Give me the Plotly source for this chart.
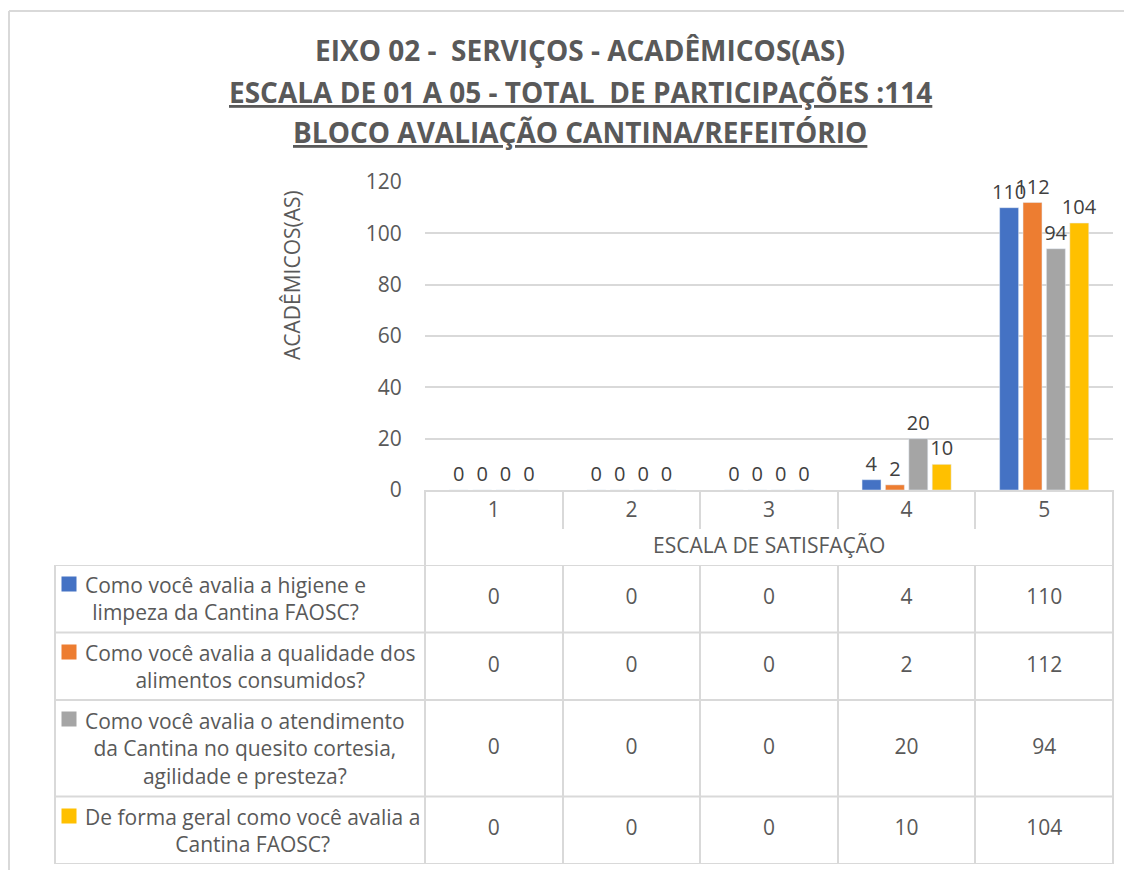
import plotly.graph_objects as go

W, H = 1132, 870

categories = ["1", "2", "3", "4", "5"]
questions = [
    "Como você avalia a higiene e<br>limpeza da Cantina FAOSC?",
    "Como você avalia a qualidade dos<br>alimentos consumidos?",
    "Como você avalia o atendimento<br>da Cantina no quesito cortesia,<br>agilidade e presteza?",
    "De forma geral como você avalia a<br>Cantina FAOSC?",
]
higiene = [0, 0, 0, 4, 110]
qualidade = [0, 0, 0, 2, 112]
atendimento = [0, 0, 0, 20, 94]
geral = [0, 0, 0, 10, 104]
series = [higiene, qualidade, atendimento, geral]
colors = ["#4472C4", "#ED7D31", "#A5A5A5", "#FFC000"]

title_lines = [
    "<b>EIXO 02 -  SERVIÇOS - ACADÊMICOS(AS)</b>",
    "<b><u>ESCALA DE 01 A 05 - TOTAL  DE PARTICIPAÇÕES :114</u></b>",
    "<b><u>BLOCO AVALIAÇÃO CANTINA/REFEITÓRIO</u></b>",
]
y_title = "ACADÊMICOS(AS)"
x_title = "ESCALA DE SATISFAÇÃO"

FONT = "Open Sans, Noto Sans, sans-serif"
TEXT = "#595959"
GRID = "#d9d9d9"
BODY = 8  # the html page keeps its default body margin


def fx(px):
    return (px - BODY) / W


def fy(py):
    return 1 - (py - BODY) / H


# table row heights follow the number of wrapped lines in each label
line_h, row_pad = 29, 10
row_heights = [q.count("<br>") * line_h + line_h + row_pad for q in questions]
bounds = [0]
for h in row_heights:
    bounds.append(bounds[-1] + h)
centers = [(bounds[i] + bounds[i + 1]) / 2 for i in range(len(questions))]

fig = go.Figure()

for name, vals, col in zip(questions, series, colors):
    fig.add_trace(go.Bar(
        x=categories, y=vals, name=name.replace("<br>", " "),
        marker_color=col, text=vals, textposition="outside",
        constraintext="none",
        textfont=dict(size=20, color="#404040", family=FONT),
        cliponaxis=False, showlegend=False,
    ))

# data table values
for vals, yc in zip(series, centers):
    fig.add_trace(go.Scatter(
        x=categories, y=[yc] * len(categories), text=vals, mode="text",
        textfont=dict(size=21, color=TEXT, family=FONT),
        xaxis="x2", yaxis="y2", showlegend=False, hoverinfo="skip",
    ))

xdom = [fx(425), fx(1113)]
fig.update_layout(
    width=W, height=H,
    margin=dict(l=0, r=0, t=0, b=0, autoexpand=False),
    paper_bgcolor="white", plot_bgcolor="white",
    font=dict(family=FONT, color=TEXT),
    bargap=0.32, bargroupgap=0.19,
    xaxis=dict(
        domain=xdom, type="category", categoryarray=categories,
        showline=True, linecolor=GRID, linewidth=2,
        ticks="outside", ticklen=37, tickwidth=2, tickcolor=GRID,
        tickson="boundaries", automargin=False,
        tickfont=dict(size=21, color=TEXT), showgrid=False,
    ),
    yaxis=dict(
        domain=[fy(490), fy(182)], range=[0, 120], dtick=20,
        showgrid=True, gridcolor=GRID, gridwidth=2, zeroline=False,
        ticks="outside", ticklen=18, tickcolor="rgba(0,0,0,0)",
        tickfont=dict(size=21, color=TEXT), automargin=False,
    ),
    xaxis2=dict(
        domain=xdom, anchor="y2", type="category", categoryarray=categories,
        range=[-0.5, len(categories) - 0.5],
        showgrid=True, gridcolor=GRID, gridwidth=2, tickson="boundaries",
        showticklabels=False, ticks="", automargin=False,
    ),
    yaxis2=dict(
        domain=[fy(864), fy(565)], anchor="x2", range=[bounds[-1], 0],
        showgrid=False, zeroline=False, showticklabels=False, automargin=False,
    ),
)

shapes = []
# row separators across the whole table
for b in bounds:
    shapes.append(dict(type="line", xref="paper", yref="y2",
                       x0=fx(55), x1=fx(1113), y0=b, y1=b,
                       line=dict(color=GRID, width=2)))
# table outer verticals
shapes.append(dict(type="line", xref="paper", yref="y2", x0=fx(55), x1=fx(55),
                   y0=0, y1=bounds[-1], line=dict(color=GRID, width=2)))
for xd in (0, 1):
    shapes.append(dict(type="line", xref="x domain", yref="paper", x0=xd, x1=xd,
                       y0=fy(490), y1=fy(864), line=dict(color=GRID, width=2)))
# chart border
shapes.append(dict(type="line", xref="paper", yref="paper", x0=fx(9), x1=1,
                   y0=fy(11), y1=fy(11), line=dict(color=GRID, width=2)))
shapes.append(dict(type="line", xref="paper", yref="paper", x0=fx(9), x1=fx(9),
                   y0=fy(11), y1=0, line=dict(color=GRID, width=2)))
fig.update_layout(shapes=shapes)

ann = []
for line, ypx in zip(title_lines, [50, 92, 132]):
    ann.append(dict(text=line, xref="paper", yref="paper", x=fx(580), y=fy(ypx),
                    showarrow=False, font=dict(size=28, color=TEXT),
                    xanchor="center", yanchor="middle"))
ann.append(dict(text=y_title, xref="paper", yref="paper", x=fx(292), y=fy(275),
                textangle=-90, showarrow=False, font=dict(size=21, color=TEXT),
                xanchor="center", yanchor="middle"))
ann.append(dict(text=x_title, xref="x domain", yref="paper", x=0.5, y=fy(545),
                showarrow=False, font=dict(size=21, color=TEXT),
                xanchor="center", yanchor="middle"))
for q, col, yc in zip(questions, colors, centers):
    ann.append(dict(text=q, xref="paper", yref="y2", x=fx(83), y=yc,
                    xanchor="left", yanchor="middle", align="center",
                    showarrow=False, font=dict(size=21, color=TEXT)))
    n = q.count("<br>") + 1
    # legend key: small filled square beside the first line
    ann.append(dict(text=" ", xref="paper", yref="y2", x=fx(69),
                    y=yc - (n - 1) * line_h / 2, width=14, height=14,
                    borderpad=0, bgcolor=col, xanchor="center",
                    yanchor="middle", showarrow=False, font=dict(size=6)))
fig.update_layout(annotations=ann)

fig.write_html("out.html")
